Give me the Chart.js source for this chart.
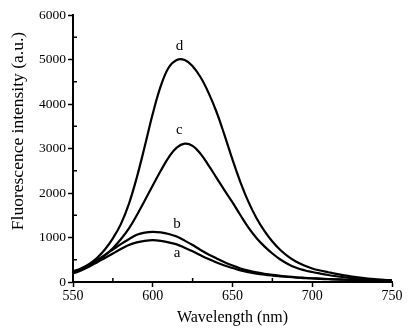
<!DOCTYPE html>
<html>
<head>
<meta charset="utf-8">
<script src="https://cdn.jsdelivr.net/npm/chart.js@4/dist/chart.umd.min.js"></script>
<style>
html,body{margin:0;padding:0;background:#fff;}
#wrap{width:418px;height:331px;position:relative;}
</style>
</head>
<body>
<div id="wrap"><canvas id="c" width="418" height="331"></canvas></div>
<script>
const wavelengths = [550,555,560,565,570,575,580,585,590,595,600,605,610,615,620,625,630,635,640,645,650,655,660,665,670,675,680,685,690,695,700,705,710,715,720,725,730,735,740,745,750];
const seriesA = [190,260,345,440,540,640,740,830,890,925,940,925,890,845,770,690,600,515,440,370,315,262,222,190,165,145,128,113,100,89,79,70,63,56,50,45,40,36,33,30,27];
const seriesB = [220,290,380,490,610,730,850,960,1060,1110,1128,1115,1080,1020,930,830,720,620,530,445,370,305,255,215,185,160,140,122,107,95,84,75,67,60,54,48,43,39,35,32,29];
const seriesC = [220,280,360,470,600,760,960,1200,1500,1830,2170,2500,2800,3020,3110,3060,2880,2620,2340,2060,1790,1500,1220,990,800,640,505,400,320,265,225,190,158,130,106,86,70,57,46,38,32];
const seriesD = [240,305,400,540,730,980,1300,1750,2350,3050,3780,4400,4820,4990,4990,4850,4600,4250,3820,3300,2750,2240,1800,1440,1150,910,720,570,455,370,305,258,220,183,150,122,98,78,62,48,38];
const seriesNames = ['a','b','c','d'];
const labelPos = [[615.2,640],[615.2,1300],[616.7,3420],[616.7,5300]];
const xTicks = [550,600,650,700,750];
const yTicks = [0,1000,2000,3000,4000,5000,6000];
const xTitle = 'Wavelength (nm)';
const yTitle = 'Fluorescence intensity (a.u.)';

const allSeries = [seriesA, seriesB, seriesC, seriesD];
const datasets = allSeries.map((s, i) => ({
  label: seriesNames[i],
  data: wavelengths.map((w, j) => ({x: w, y: s[j]})),
  borderColor: '#000',
  borderWidth: 2.2,
  pointRadius: 0,
  fill: false,
  tension: 0.4
}));

const serif = '"Liberation Serif", "Times New Roman", serif';

const decor = {
  id: 'decor',
  afterDraw(chart) {
    const ctx = chart.ctx;
    const xs = chart.scales.x, ys = chart.scales.y;
    const ca = chart.chartArea;
    ctx.save();
    ctx.strokeStyle = '#000';
    ctx.lineWidth = 1.5;
    for (let v = 575; v < 750; v += 50) {
      const px = xs.getPixelForValue(v);
      ctx.beginPath(); ctx.moveTo(px, ca.bottom); ctx.lineTo(px, ca.bottom - 4); ctx.stroke();
    }
    for (let v = 500; v < 6000; v += 1000) {
      const py = ys.getPixelForValue(v);
      ctx.beginPath(); ctx.moveTo(ca.left, py); ctx.lineTo(ca.left + 4, py); ctx.stroke();
    }
    ctx.fillStyle = '#000';
    ctx.font = '15px ' + serif;
    ctx.textAlign = 'center';
    ctx.textBaseline = 'middle';
    labelPos.forEach((p, i) => {
      ctx.fillText(seriesNames[i], xs.getPixelForValue(p[0]), ys.getPixelForValue(p[1]));
    });
    ctx.font = '17.5px ' + serif;
    ctx.translate(18, 131);
    ctx.rotate(-Math.PI / 2);
    ctx.fillText(yTitle, 0, 0);
    ctx.restore();
  }
};

new Chart(document.getElementById('c'), {
  type: 'line',
  data: { datasets },
  options: {
    responsive: false,
    animation: false,
    layout: { padding: { left: 0, right: 26, top: 15, bottom: 0 } },
    plugins: { legend: { display: false }, tooltip: { enabled: false } },
    scales: {
      x: {
        type: 'linear',
        min: 550, max: 750,
        afterBuildTicks(scale) { scale.ticks = xTicks.map(v => ({value: v})); },
        afterFit(scale) { scale.height = 49; },
        ticks: { color: '#000', font: { family: serif, size: 14 }, padding: 1, maxRotation: 0, callback: v => String(v) },
        grid: { display: true, drawOnChartArea: false, drawTicks: true, tickLength: 5, color: '#000', tickWidth: 1.5 },
        border: { display: true, color: '#000', width: 2 },
        title: { display: true, text: xTitle, color: '#000', font: { family: serif, size: 16 }, padding: { top: 0, bottom: 4 } }
      },
      y: {
        type: 'linear',
        min: 0, max: 6000,
        afterBuildTicks(scale) { scale.ticks = yTicks.map(v => ({value: v})); },
        afterFit(scale) { scale.width = 73; },
        ticks: { color: '#000', font: { family: serif, size: 13.5 }, padding: 2, callback: v => String(v) },
        grid: { display: true, drawOnChartArea: false, drawTicks: true, tickLength: 5, color: '#000', tickWidth: 1.5 },
        border: { display: true, color: '#000', width: 2 }
      }
    }
  },
  plugins: [decor]
});
</script>
</body>
</html>
